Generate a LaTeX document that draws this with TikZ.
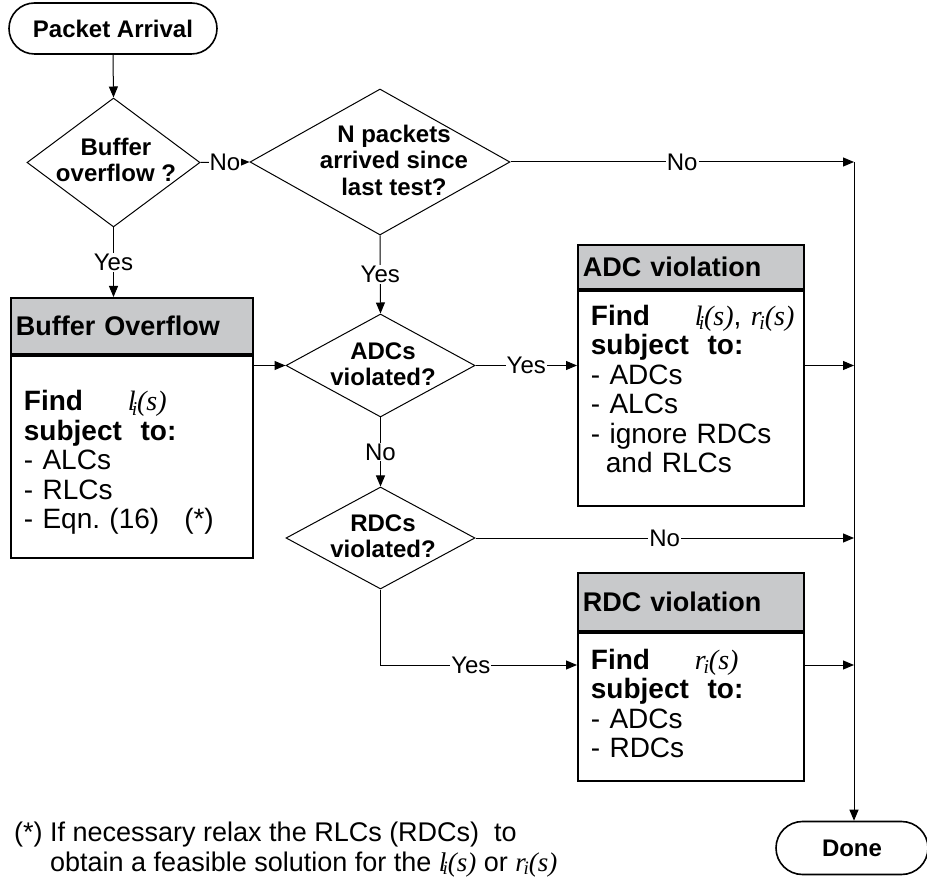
\documentclass[tikz,border=0pt]{standalone}
\usepackage{fontspec}
\setmainfont{Liberation Sans}
\newfontfamily\timesfam{Liberation Serif}
\usetikzlibrary{shapes.geometric,shapes.misc,arrows.meta}
\definecolor{hdrgray}{RGB}{200,201,203}
\tikzstyle{terminal}=[rounded rectangle, draw, line width=1.6pt, inner sep=0pt, font=\fontsize{24}{26}\selectfont\bfseries]
\tikzstyle{decision}=[diamond, draw, line width=1pt, inner sep=0pt]
\tikzstyle{question}=[align=center, inner sep=0pt, font=\fontsize{24}{26.5}\selectfont\bfseries]
\tikzstyle{header}=[draw, line width=1.8pt, fill=hdrgray, anchor=north west, inner xsep=5pt, align=left, font=\fontsize{27}{29}\selectfont\bfseries]
\tikzstyle{content}=[draw, line width=1.8pt, anchor=north west, inner sep=0pt]
\tikzstyle{contenttext}=[align=left, inner sep=0pt, font=\fontsize{28}{29.5}\selectfont]
\tikzstyle{answer}=[fill=white, inner sep=1pt, font=\fontsize{24}{26}\selectfont]
\tikzstyle{flow}=[line width=1pt, -{Triangle[length=11pt,width=9pt]}]
\newcommand\lfn{{\timesfam\itshape l\kern-0.14em\textsubscript{i}\kern-0.02em(s)}}
\newcommand\rfn{{\timesfam\itshape r\kern-0.08em\textsubscript{i}\kern-0.02em(s)}}
\newcommand\findwhat[1]{\mbox{\makebox[104pt][l]{\textbf{Find}}#1}}

\begin{document}
\begin{tikzpicture}[x=1pt, y=-1pt]
\useasboundingbox (0,0) rectangle (927,882);
% Start and end
    \node[terminal, minimum width=208pt, minimum height=51pt] (arrival) at (113,28.5) {Packet Arrival};
    \node[terminal, minimum width=152pt, minimum height=53pt] (done) at (852,848) {Done};
    \coordinate (bus) at (854,162);
% Tests
    \node[decision, minimum width=173pt, minimum height=129pt] (overflow) at (113.5,162.5) {};
    \node[question] (overflowq) at (116,160) {Buffer\\overflow ?};
    \node[decision, minimum width=260pt, minimum height=146pt] (npkt) at (380,162) {};
    \node[question] (npktq) at (394,160) {N packets\\arrived since\\last test?};
    \node[decision, minimum width=189pt, minimum height=103pt] (adcq) at (380.5,365.5) {};
    \node[question] (adcqt) at (383,364) {ADCs\\violated?};
    \node[decision, minimum width=189pt, minimum height=102pt] (rdcq) at (380.5,538) {};
    \node[question] (rdcqt) at (383,536) {RDCs\\violated?};
% Boxes
    \node[header, text width=232pt, minimum height=56pt] (bufhd) at (10,297) {Buffer Overflow};
    \node[content, minimum width=242pt, minimum height=202pt] (bufbd) at (bufhd.south west) {};
    \node[contenttext, text width=216pt] (buftx) at ([yshift=-6pt]bufbd.center)
        {\findwhat{\lfn}\\\textbf{subject\ \ to:}\\- ALCs\\- RLCs\\- Eqn.\ (16)\hspace{25pt}(*)};
    \node[header, text width=216pt, minimum height=44pt] (adchd) at (577,244) {ADC violation};
    \node[content, minimum width=226pt, minimum height=215pt] (adcbd) at (adchd.south west) {};
    \node[contenttext, text width=200pt] (adctx) at ([yshift=9pt]adcbd.center)
        {\findwhat{\lfn, \rfn}\\\textbf{subject\ \ to:}\\- ADCs\\- ALCs\\- ignore RDCs\\\hspace{15pt}and RLCs};
    \node[header, text width=216pt, minimum height=58pt] (rdchd) at (577,572) {RDC violation};
    \node[content, minimum width=226pt, minimum height=148pt] (rdcbd) at (rdchd.south west) {};
    \node[contenttext, text width=200pt] (rdctx) at ([yshift=3pt]rdcbd.center)
        {\findwhat{\rfn}\\\textbf{subject\ \ to:}\\- ADCs\\- RDCs};
% Footnote
    \node[anchor=base west, align=left, inner sep=0pt, font=\fontsize{27}{29.5}\selectfont] (note) at (14,871)
        {(*) If necessary relax the RLCs (RDCs)\ \ to\\\hphantom{(*)\ }obtain a feasible solution for the \lfn\ or \rfn};
% Connectors
    \draw[flow] (arrival.south) -- (overflow.north);
    \draw[flow] (overflow.east) -- node[answer]{No} (npkt.west);
    \draw[flow] (npkt.east) -- node[answer]{No} (bus);
    \draw[flow] (overflow.south) -- node[answer]{Yes} (overflow.south |- bufhd.north);
    \draw[flow] (npkt.south) -- node[answer]{Yes} (adcq.north);
    \draw[flow] (bufbd.east |- adcq.west) -- (adcq.west);
    \draw[flow] (adcq.east) -- node[answer]{Yes} (adcq.east -| adcbd.west);
    \draw[flow] (adcbd.east |- adcq.east) -- (bus |- adcq.east);
    \draw[flow] (adcq.south) -- node[answer]{No} (rdcq.north);
    \draw[flow] (rdcq.east) -- node[answer]{No} (bus |- rdcq.east);
    \draw[flow] (rdcq.south) |- node[answer, pos=0.73]{Yes} (rdcbd.west |- 0,665);
    \draw[flow] (rdcbd.east |- 0,665) -- (bus |- 0,665);
    \draw[flow] (bus) -- (bus |- done.north);
\end{tikzpicture}
\end{document}
